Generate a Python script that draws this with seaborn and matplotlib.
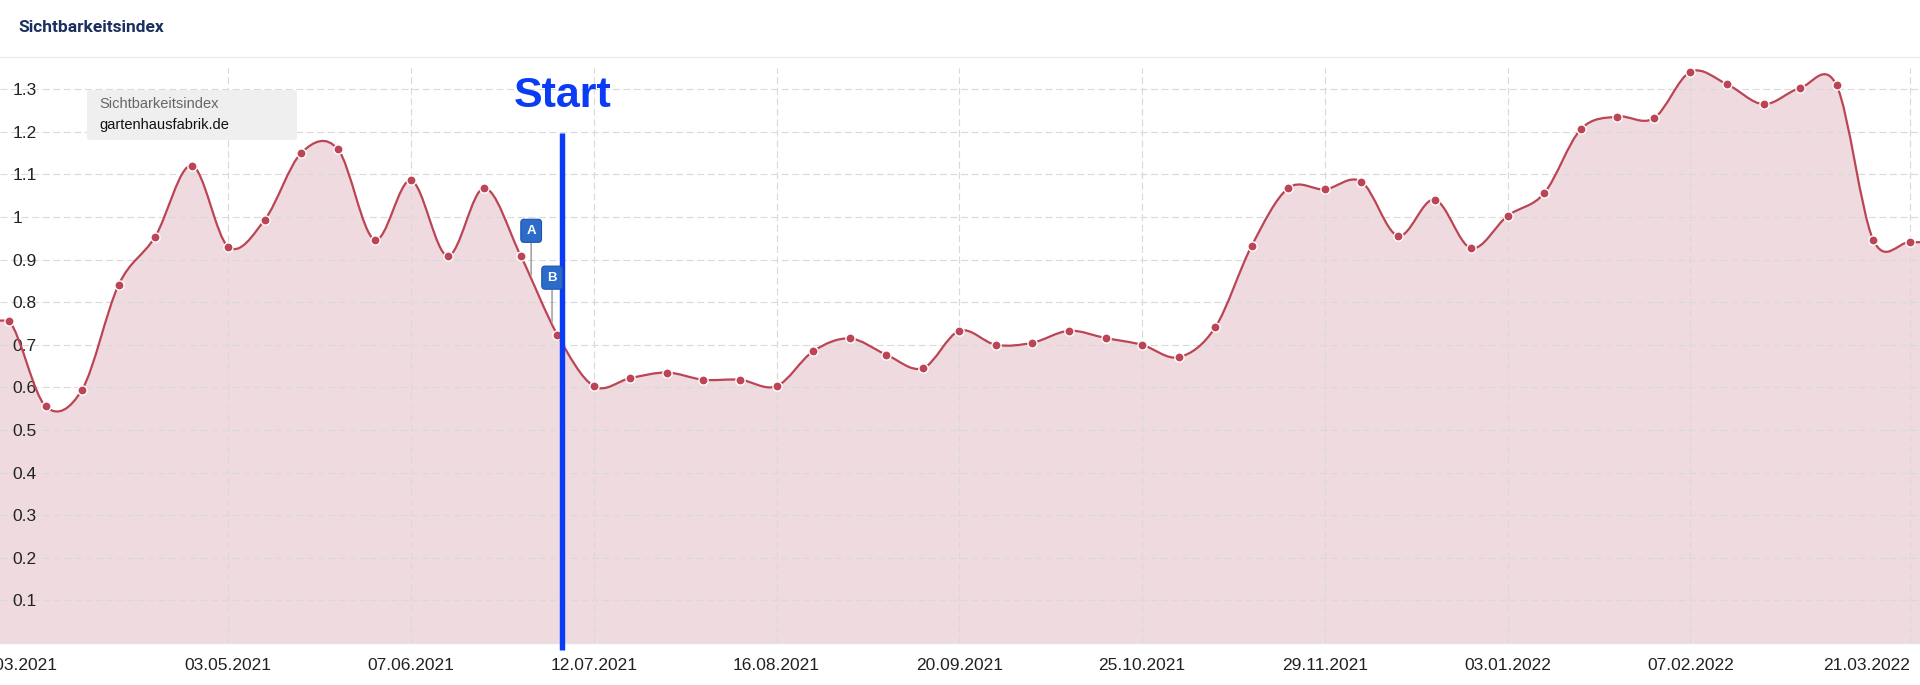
import matplotlib
matplotlib.use("Agg")
import numpy as np
import pandas as pd
import matplotlib.pyplot as plt
import matplotlib.dates as mdates
from matplotlib.path import Path
from matplotlib.patches import PathPatch, FancyBboxPatch
from matplotlib.lines import Line2D
from matplotlib.transforms import ScaledTranslation
import seaborn as sns

# weekly Sichtbarkeitsindex values (Mondays), first week 22.03.2021
first_week = "2021-03-22"
visibility = [0.757, 0.556, 0.595, 0.841, 0.954, 1.121, 0.930, 0.994, 1.151, 1.159,
              0.947, 1.086, 0.909, 1.068, 0.909, 0.724, 0.603, 0.622, 0.635, 0.618,
              0.618, 0.603, 0.685, 0.715, 0.677, 0.645, 0.733, 0.700, 0.705, 0.733,
              0.716, 0.700, 0.671, 0.741, 0.933, 1.068, 1.065, 1.083, 0.956, 1.041,
              0.927, 1.003, 1.056, 1.206, 1.236, 1.232, 1.341, 1.312, 1.265, 1.303,
              1.309, 0.947, 0.941]

xtick_labels = ["29.03.2021", "03.05.2021", "07.06.2021", "12.07.2021", "16.08.2021",
                "20.09.2021", "25.10.2021", "29.11.2021", "03.01.2022", "07.02.2022",
                "21.03.2022"]
yticks = [0.1, 0.2, 0.3, 0.4, 0.5, 0.6, 0.7, 0.8, 0.9, 1.0, 1.1, 1.2, 1.3]

start_date = "06.07.2021"
event_labels = ["A", "B"]
event_dates = ["30.06.2021", "04.07.2021"]
event_values = [0.864, 0.754]

line_color = "#bb4455"
fill_color = "#efdbdf"
blue = "#0a3cf5"

df = pd.DataFrame({"date": pd.date_range(first_week, periods=len(visibility), freq="7D"),
                   "value": visibility})

sns.set_style("white")
plt.rcParams["font.family"] = ["Liberation Sans", "DejaVu Sans"]
plt.rcParams["lines.scale_dashes"] = False

fig = plt.figure(figsize=(19.2, 6.85), dpi=100)
ax = fig.add_axes([0, 42 / 685, 1, 575 / 685])

xmin = df["date"].iloc[0] - pd.Timedelta(days=1.72)
xmax = df["date"].iloc[-1] + pd.Timedelta(days=1.97)

# smooth curve (Catmull-Rom as cubic bezier) through the weekly points
xs = mdates.date2num(df["date"])
ys = df["value"].to_numpy()
px = np.concatenate([[2 * xs[0] - xs[1]], xs, [2 * xs[-1] - xs[-2]]])
py = np.concatenate([[ys[0]], ys, [ys[-1]]])
x_left, x_right = mdates.date2num(xmin), mdates.date2num(xmax)
verts = [(x_left, ys[0]), (xs[0], ys[0])]
codes = [Path.MOVETO, Path.LINETO]
for i in range(1, len(px) - 2):
    c1 = (px[i] + (px[i + 1] - px[i - 1]) / 6, py[i] + (py[i + 1] - py[i - 1]) / 6)
    c2 = (px[i + 1] - (px[i + 2] - px[i]) / 6, py[i + 1] - (py[i + 2] - py[i]) / 6)
    verts += [c1, c2, (px[i + 1], py[i + 1])]
    codes += [Path.CURVE4] * 3
verts.append((x_right, ys[-1]))
codes.append(Path.LINETO)

area = Path(verts + [(x_right, 0), (x_left, 0), (x_left, ys[0])],
            codes + [Path.LINETO, Path.LINETO, Path.CLOSEPOLY])
ax.add_patch(PathPatch(area, facecolor=fill_color, edgecolor="none", zorder=1))
ax.add_patch(PathPatch(Path(verts, codes), facecolor="none", edgecolor=line_color,
                       lw=1.6, zorder=3))

sns.scatterplot(data=df, x="date", y="value", ax=ax, color=line_color, s=44,
                edgecolor="white", linewidth=1.0, zorder=4, legend=False)

# axes
ax.set_xlim(xmin, xmax)
ax.set_ylim(0, 1.35)
ax.set_xlabel("")
ax.set_ylabel("")

tick_dates = pd.to_datetime(xtick_labels, format="%d.%m.%Y")
ax.set_xticks(tick_dates)
ax.set_xticklabels(xtick_labels)
ax.set_yticks(yticks)
ax.set_yticklabels(["1" if abs(v - 1) < 1e-9 else f"{v:.1f}" for v in yticks])

ax.tick_params(axis="x", length=0, pad=11, labelsize=12.5, labelcolor="#222222")
ax.tick_params(axis="y", length=0, pad=-9, labelsize=12.5, labelcolor="#222222")
for lbl in ax.get_yticklabels():
    lbl.set_horizontalalignment("left")
xl = ax.get_xticklabels()
xl[0].set_transform(xl[0].get_transform() + ScaledTranslation(-0.315, 0, fig.dpi_scale_trans))
xl[-1].set_horizontalalignment("right")

ax.set_axisbelow(False)
ax.grid(True, color="#d9d9d9", lw=0.8, linestyle=(0, (5, 2.6)))
ax.get_xgridlines()[0].set_visible(False)
for s in ["top", "left", "right"]:
    ax.spines[s].set_visible(False)
ax.spines["bottom"].set_color("#e3e3e3")
ax.spines["bottom"].set_linewidth(1)

# start marker
start = pd.to_datetime(start_date, format="%d.%m.%Y")
ax.plot([start, start], [1.197, -0.017], color=blue, lw=3.9, zorder=6,
        clip_on=False, solid_capstyle="butt")
ax.text(start, 1.258, "Start", color=blue, fontsize=31, fontweight="bold",
        ha="center", va="baseline", zorder=6, clip_on=False)

# event flags
for lab, d, v in zip(event_labels, event_dates, event_values):
    ax.annotate(lab, xy=(pd.to_datetime(d, format="%d.%m.%Y"), v),
                xytext=(0, 27.5), textcoords="offset points",
                ha="center", va="bottom", fontsize=9.5, fontweight="bold",
                color="white", zorder=7,
                bbox=dict(boxstyle="round,pad=0.42,rounding_size=0.25",
                          fc="#2d6bcb", ec="#1d55aa", lw=0.8),
                arrowprops=dict(arrowstyle="-", color="#a5a5a5", lw=1.2,
                                shrinkA=0, shrinkB=0))

# legend box
fig.patches.append(FancyBboxPatch((87 / 1920, 1 - 140 / 685), 210 / 1920, 50 / 685,
                                  boxstyle="round,pad=0,rounding_size=0.003",
                                  transform=fig.transFigure, fc="#efefef", ec="none",
                                  zorder=8))
fig.text(99 / 1920, 1 - 104 / 685, "Sichtbarkeitsindex", fontsize=10.5,
         color="#666666", va="center", ha="left", zorder=9)
fig.text(99 / 1920, 1 - 125 / 685, "gartenhausfabrik.de", fontsize=10.5,
         color="#111111", va="center", ha="left", zorder=9)

# header
fig.text(18 / 1920, 1 - 27 / 685, "Sichtbarkeitsindex", fontsize=12.5,
         fontweight="bold", color="#1b2f60", va="center", ha="left",
         family=["Roboto", "DejaVu Sans"])
fig.add_artist(Line2D([0, 1], [1 - 57 / 685, 1 - 57 / 685], color="#ebebeb", lw=1,
                      transform=fig.transFigure))

fig.savefig("out.png", dpi=100)
